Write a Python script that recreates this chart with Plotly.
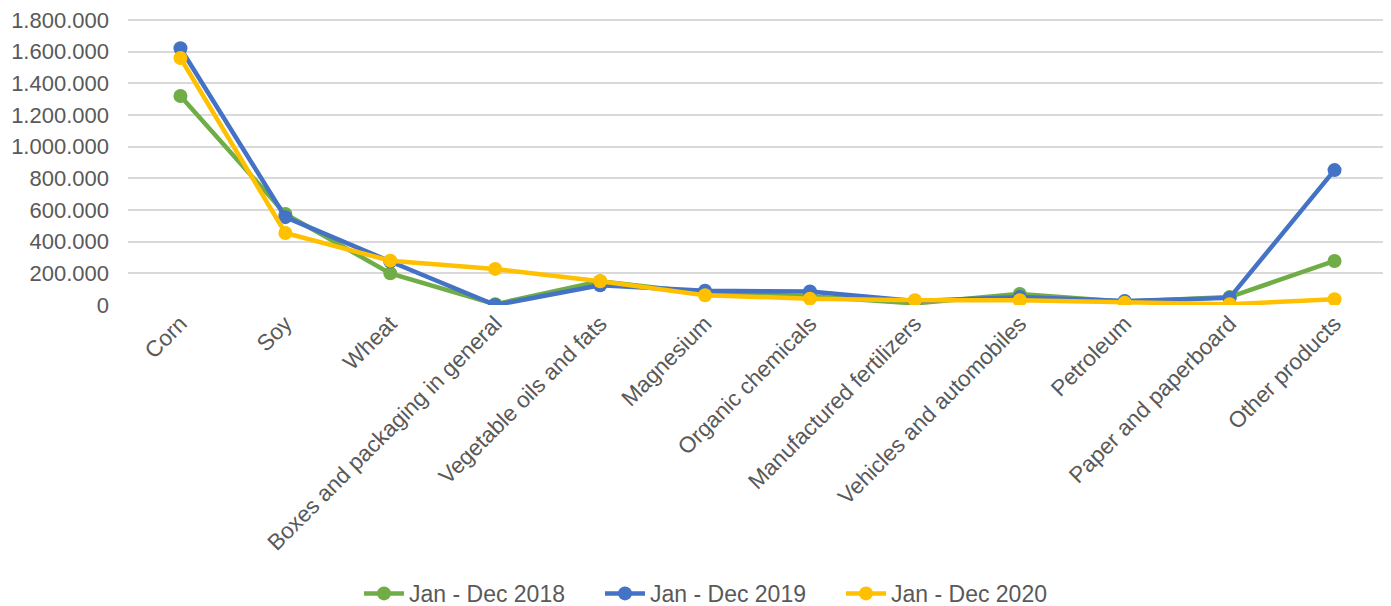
import plotly.graph_objects as go

categories = ["Corn", "Soy", "Wheat", "Boxes and packaging in general",
              "Vegetable oils and fats", "Magnesium", "Organic chemicals",
              "Manufactured fertilizers", "Vehicles and automobiles", "Petroleum",
              "Paper and paperboard", "Other products"]

series_names = ["Jan - Dec 2018", "Jan - Dec 2019", "Jan - Dec 2020"]
values_2018 = [1320000, 575000, 200000, 5000, 150000, 75000, 55000, 10000, 70000, 20000, 50000, 278000]
values_2019 = [1622000, 555000, 275000, 0, 125000, 90000, 85000, 25000, 50000, 25000, 45000, 852000]
values_2020 = [1560000, 455000, 280000, 228000, 150000, 62000, 40000, 30000, 30000, 15000, 5000, 36000]
y_ticks = [0, 200000, 400000, 600000, 800000, 1000000, 1200000, 1400000, 1600000, 1800000]
colors = ["#70AD47", "#4472C4", "#FFC000"]

fig = go.Figure()
for name, vals, c in zip(series_names, [values_2018, values_2019, values_2020], colors):
    fig.add_trace(go.Scatter(x=categories, y=vals, name=name, mode="lines+markers",
                             line=dict(color=c, width=4.5),
                             marker=dict(color=c, size=14)))

fig.update_layout(
    width=1383, height=598,
    margin=dict(l=120, r=4, t=11, b=301, autoexpand=False),
    paper_bgcolor="white", plot_bgcolor="white",
    separators=",.",
    font=dict(family="Liberation Sans, Arial", size=22, color="#595959"),
    showlegend=True,
    legend=dict(orientation="h", xref="container", x=0.2538, xanchor="left",
                yref="container", y=0.021, yanchor="middle",
                font=dict(size=23, color="#595959"), itemwidth=40, entrywidth=186),
    xaxis=dict(type="category", range=[-0.5, 11.5], tickangle=-45, showgrid=False,
               showline=False, ticks="", automargin=False,
               tickfont=dict(size=22.5, color="#595959")),
    yaxis=dict(range=[0, 1806500], tickvals=y_ticks,
               tickformat=",d", showgrid=True, ticklabeloverflow="allow",
               gridcolor="#D9D9D9", gridwidth=1.5, zeroline=False, showline=False,
               ticks="", automargin=False, ticklabelstandoff=18,
               tickfont=dict(size=22, color="#595959")),
)

fig.write_html("out.html")
